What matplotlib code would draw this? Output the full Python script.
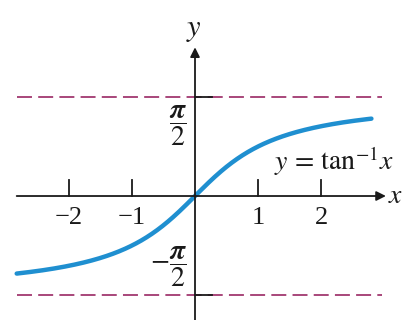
import numpy as np
import matplotlib
matplotlib.use("Agg")
import matplotlib.pyplot as plt

plt.rcParams['mathtext.fontset'] = 'stix'
plt.rcParams['font.family'] = ['Liberation Serif', 'DejaVu Serif']

# Curve and axis data
x_start, x_end = -2.83, 2.8
x_ticks = [-2, -1, 1, 2]
x_tick_labels = ['−2', '−1', '1', '2']
asymptotes = [np.pi / 2, -np.pi / 2]

fig = plt.figure(figsize=(4.05, 3.2), dpi=100)
ax = fig.add_axes([0, 0, 1, 1])
ax.set_xlim(-3.095, 3.333)
ax.set_ylim(-1.968, 3.111)
ax.axis('off')

axis_color = '#1a1a1a'
curve_color = '#1f8fd0'
dash_color = '#a8467a'

# x axis with arrow
ax.annotate('', xy=(3.03, 0), xytext=(-2.83, 0),
            arrowprops=dict(arrowstyle='-|>', color=axis_color, lw=1.3,
                            mutation_scale=14, shrinkA=0, shrinkB=0))
# y axis with arrow
ax.annotate('', xy=(0, 2.36), xytext=(0, -2.0),
            arrowprops=dict(arrowstyle='-|>', color=axis_color, lw=1.3,
                            mutation_scale=14, shrinkA=0, shrinkB=0))

# Horizontal asymptotes
for a in asymptotes:
    ax.plot([-2.83, 2.97], [a, a], color=dash_color, lw=1.4,
            dashes=(7.7, 3.2))
    ax.plot([0, 0.27], [a, a], color=axis_color, lw=1.3)

# x ticks above the axis
for t, lab in zip(x_ticks, x_tick_labels):
    ax.plot([t, t], [0, 0.26], color=axis_color, lw=1.3)
    ax.text(t, -0.18, lab, ha='center', va='top', fontsize=19,
            color=axis_color)

# arctangent curve
xs = np.linspace(x_start, x_end, 400)
ax.plot(xs, np.arctan(xs), color=curve_color, lw=3.2, solid_capstyle='round')

# Labels
ax.text(3.07, 0.0, r'$x$', ha='left', va='center', fontsize=20,
        color=axis_color)
ax.text(-0.02, 2.42, r'$y$', ha='center', va='bottom', fontsize=22,
        color=axis_color)
ax.text(-0.27, 1.12, r'$\dfrac{\boldsymbol{\pi}}{2}$', ha='center',
        va='center', fontsize=20, color=axis_color)
ax.text(-0.42, -1.12, r'$-\dfrac{\boldsymbol{\pi}}{2}$', ha='center',
        va='center', fontsize=20, color=axis_color)
ax.text(1.26, 0.55, r'$y\,=\,\mathrm{tan}^{-1}x$', ha='left', va='center',
        fontsize=20, color=axis_color)

fig.savefig('out.png', dpi=100)
